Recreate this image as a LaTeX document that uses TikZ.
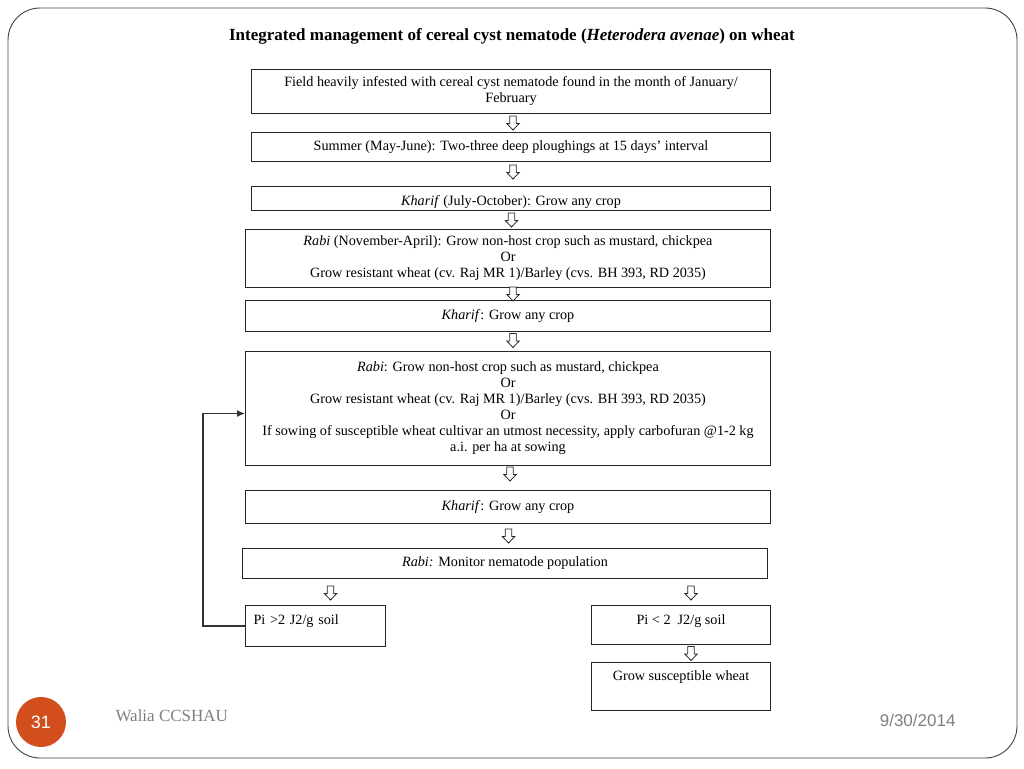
\documentclass[tikz,border=0pt]{standalone}
\usepackage{fontspec}
\setmainfont{Liberation Serif}
\setsansfont{Liberation Sans}
\usepackage{tikz}
\usetikzlibrary{shapes, arrows, positioning, calc, arrows.meta}

\definecolor{slideorange}{HTML}{D24E1D}
\definecolor{footgray}{HTML}{7F7F7F}

\begin{document}
\begin{tikzpicture}[x=1pt, y=-1pt,
        stage/.style={rectangle, draw=black!85, line width=1pt, anchor=north west, align=center, font=\fontsize{14.2}{16}\selectfont, inner sep=3pt},
        smallstage/.style={stage, inner ysep=0pt},
        hollowdown/.pic={\draw[draw=black!85, fill=white, line width=0.8pt] (-3.2,-7) -- (3.2,-7) -- (3.2,0.5) -- (6.2,0.5) -- (0,7) -- (-6.2,0.5) -- (-3.2,0.5) -- cycle;},
        feed/.style={-{Latex[length=8pt, width=7pt]}, draw=black!80, line width=1.2pt},
        footer/.style={font=\fontsize{17}{20}\selectfont, text=footgray}
    ]
        \useasboundingbox (0,0) rectangle (1024,768);

        % Slide frame
        \draw[rounded corners=32pt, draw=black!75, line width=0.9pt] (8,8) rectangle (1017,758);

        % Title
        \node[font=\fontsize{17}{20}\selectfont\bfseries] (title) at (512,36) {Integrated management of cereal cyst nematode (\textit{Heterodera avenae}) on wheat};

        % Stages
        \node[stage, minimum width=519, minimum height=44] (field) at (251,69) {Field heavily infested with cereal cyst nematode found in the month of January/\\February};
        \node[stage, minimum width=519, minimum height=29] (summer) at (251,132) {Summer (May-June): Two-three deep ploughings at 15 days' interval};
        \node[stage, minimum width=519, inner ysep=2pt, text height=17pt, text depth=3pt] (kharifa) at (251,186) {\textit{Kharif} (July-October): Grow any crop};
        \node[stage, minimum width=525, minimum height=58] (rabia) at (245,229) {\textit{Rabi} (November-April): Grow non-host crop such as mustard, chickpea\\Or\\Grow resistant wheat (cv. Raj MR 1)/Barley (cvs. BH 393, RD 2035)};
        \node[stage, minimum width=525, minimum height=31] (kharifb) at (245,300) {\textit{Kharif}: Grow any crop};
        \node[stage, minimum width=525, minimum height=114] (rabib) at (245,351) {\textit{Rabi}: Grow non-host crop such as mustard, chickpea\\Or\\Grow resistant wheat (cv. Raj MR 1)/Barley (cvs. BH 393, RD 2035)\\Or\\If sowing of susceptible wheat cultivar an utmost necessity, apply carbofuran @1-2 kg\\a.i. per ha at sowing};
        \node[stage, minimum width=525, minimum height=33] (kharifc) at (245,490) {\textit{Kharif}: Grow any crop};
        \node[stage, minimum width=525, minimum height=30] (monitor) at (242,548) {\textit{Rabi:} Monitor nematode population};

        % Outcomes
        \node[smallstage, minimum width=140, text width=124pt, align=left, inner xsep=8pt, text height=19pt, text depth=22pt] (pigt) at (245,605) {Pi >2 J2/g soil};
        \node[smallstage, minimum width=179, text height=19pt, text depth=20pt] (pilt) at (591,605) {Pi < 2\ \ J2/g soil};
        \node[smallstage, minimum width=179, text height=18pt, text depth=30pt] (grow) at (591,662) {Grow susceptible wheat};

        % Arrows between stages
        \pic (a1) at ($(field.south)!0.5!(summer.north)+(2,0)$) {hollowdown};
        \pic (a2) at ($(summer.south)!0.5!(kharifa.north)+(2,-2)$) {hollowdown};
        \pic (a3) at ($(kharifa.south)!0.5!(rabia.north)+(2,0)$) {hollowdown};
        \pic (a4) at ($(rabia.south)+(5,6)$) {hollowdown};
        \pic (a5) at ($(kharifb.south)!0.5!(rabib.north)+(5,-1)$) {hollowdown};
        \pic (a6) at ($(rabib.south)!0.5!(kharifc.north)+(2,-4)$) {hollowdown};
        \pic (a7) at ($(kharifc.south)!0.5!(monitor.north)+(2,0)$) {hollowdown};
        \pic (a8) at ($(pigt.north)+(15,-12)$) {hollowdown};
        \pic (a9) at ($(pilt.north)+(10,-12)$) {hollowdown};
        \pic (a10) at ($(pilt.south)!0.5!(grow.north)+(10,0)$) {hollowdown};

        % Back to Rabi
        \draw[feed] (pigt.west) -- ++(-42,0) |- ([yshift=-5pt]rabib.west);

        % Footer
        \node[circle, fill=slideorange, minimum size=50pt, text=white, font=\sffamily\fontsize{18}{20}\selectfont] (pagenum) at (41,722) {31};
        \node[footer, anchor=west] (author) at (112,716) {Walia CCSHAU};
        \node[footer, anchor=east, font=\sffamily\fontsize{17}{20}\selectfont] (date) at (959,720) {9/30/2014};
    \end{tikzpicture}
\end{document}
